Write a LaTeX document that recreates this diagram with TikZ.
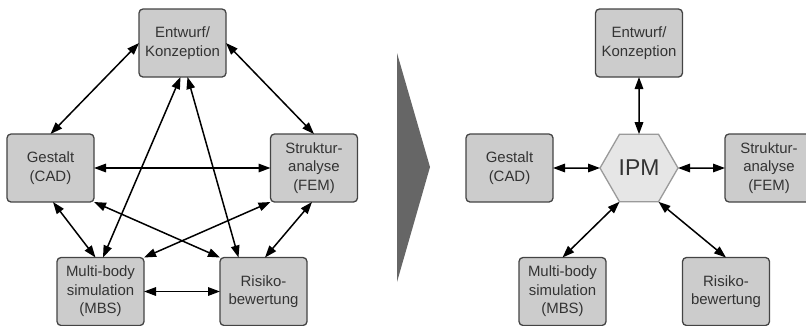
\documentclass[tikz,border=0pt]{standalone}
\usepackage{fontspec}
\setmainfont{Liberation Sans}
\usetikzlibrary{arrows.meta,shapes.geometric}
\definecolor{boxfill}{HTML}{CCCCCC}
\definecolor{boxline}{HTML}{444444}
\definecolor{txt}{HTML}{333333}
\definecolor{hexfill}{HTML}{E6E6E6}
\definecolor{hexline}{HTML}{9A9A9A}
\definecolor{chev}{HTML}{666666}
\begin{document}
\begin{tikzpicture}[x=1bp,y=-1bp,
  stage/.style={draw=boxline,fill=boxfill,line width=1.3bp,rounded corners=4bp,
    minimum width=87bp,minimum height=68bp,inner sep=0pt,outer sep=0pt,
    align=center,text=txt,font=\fontsize{15}{18.5}\selectfont},
  hub/.style={regular polygon,regular polygon sides=6,minimum size=78bp,
    draw=hexline,fill=hexfill,line width=1.3bp,inner sep=0pt,outer sep=0pt,
    text=txt,font=\fontsize{23}{26}\selectfont},
  link/.style={line width=1.5bp,
    {Triangle[length=12bp,width=8.5bp]}-{Triangle[length=12bp,width=8.5bp]}}]
\useasboundingbox (0,0) rectangle (806,325);

% left: every task linked to every other
\node[stage] (E)  at (182.5,43)   {Entwurf/\\Konzeption};
\node[stage] (G)  at (50.5,168)   {Gestalt\\(CAD)};
\node[stage] (S)  at (314,168)    {Struktur-\\analyse\\(FEM)};
\node[stage] (M)  at (100.5,291.5){Multi-body\\simulation\\(MBS)};
\node[stage] (R)  at (263.5,291.5){Risiko-\\bewertung};

\draw[link] (E.west) -- (G.north);
\draw[link] (E.east) -- (S.north);
\draw[link] (G.east) -- (S.west);
\draw[link] ([xshift=-2bp]E.south) -- ([xshift=2.5bp]M.north);
\draw[link] ([xshift=5bp]E.south) -- ([xshift=-25bp]R.north);
\draw[link] ([xshift=2.5bp]G.south) -- ([xshift=-5bp]M.north);
\draw[link] (G.south east) -- (R.north west);
\draw[link] (S.south west) -- (M.north east);
\draw[link] ([xshift=-2bp]S.south) -- ([xshift=1.5bp]R.north);
\draw[link] (M.east) -- (R.west);

% transition chevron
\fill[chev] (397,53) -- (430,167) -- (397,282) -- cycle;

% right: every task linked through the hub
\node[hub]   (H)  at (639,168)    {IPM};
\node[stage] (E2) at (639,43)     {Entwurf/\\Konzeption};
\node[stage] (G2) at (509.5,168)  {Gestalt\\(CAD)};
\node[stage,minimum width=88bp] (S2) at (769,168) {Struktur-\\analyse\\(FEM)};
\node[stage] (M2) at (562.5,291.5){Multi-body\\simulation\\(MBS)};
\node[stage] (R2) at (726,291.5)  {Risiko-\\bewertung};

\draw[link] (E2.south) -- (H.north);
\draw[link] (G2.east) -- (H.west);
\draw[link] (H.east) -- (S2.west);
\draw[link] (H.240) -- (M2.north);
\draw[link] (H.300) -- (R2.north);
\end{tikzpicture}
\end{document}
